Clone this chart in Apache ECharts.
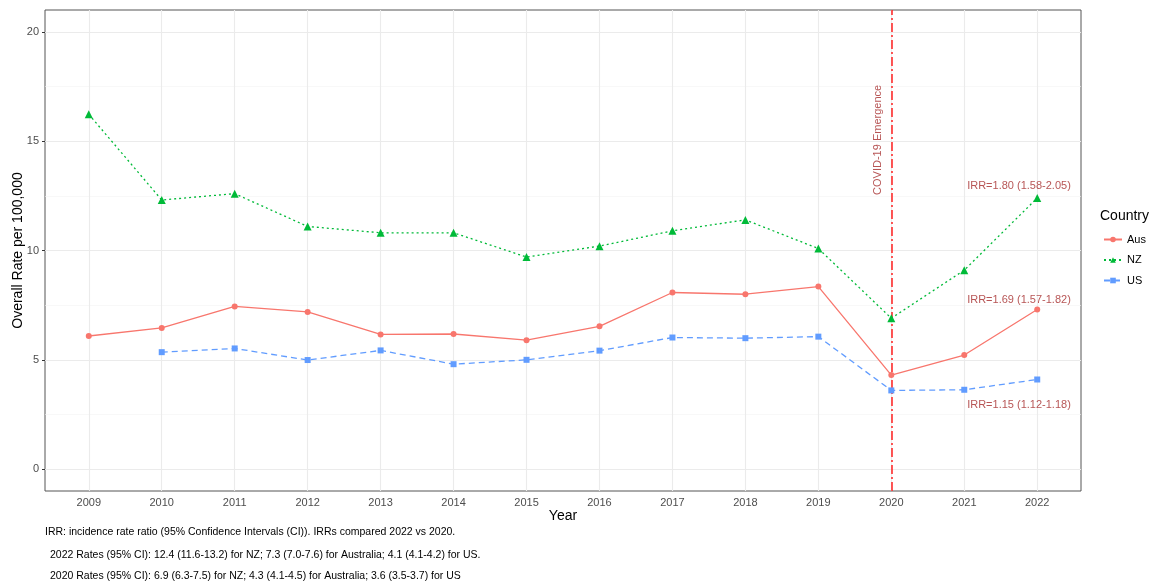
<!DOCTYPE html>
<html>
<head>
<meta charset="utf-8">
<script src="https://cdn.jsdelivr.net/npm/echarts@6/dist/echarts.min.js"></script>
<style>html,body{margin:0;padding:0;background:#fff;}#c{width:1162px;height:583px;}</style>
</head>
<body>
<div id="c"></div>
<script>
const years = [2009,2010,2011,2012,2013,2014,2015,2016,2017,2018,2019,2020,2021,2022];
const aus = [6.09,6.46,7.44,7.19,6.16,6.18,5.90,6.53,8.08,8.00,8.35,4.3,5.22,7.3];
const nz  = [16.23,12.31,12.60,11.10,10.81,10.81,9.70,10.20,10.90,11.40,10.09,6.9,9.10,12.4];
const us  = [null,5.35,5.52,4.99,5.43,4.80,5.00,5.42,6.02,5.99,6.06,3.6,3.63,4.1];
const yTicks = [0,5,10,15,20];
const yMinor = [2.5,7.5,12.5,17.5];
const covidYear = 2020;
const covidLabel = 'COVID-19 Emergence';
const annotX = [2021.75, 2021.75, 2021.75];
const annotY = [12.94, 7.75, 2.94];
const annotText = ['IRR=1.80 (1.58-2.05)','IRR=1.69 (1.57-1.82)','IRR=1.15 (1.12-1.18)'];
const captions = [
  'IRR: incidence rate ratio (95% Confidence Intervals (CI)). IRRs compared 2022 vs 2020.',
  '2022 Rates (95% CI): 12.4 (11.6-13.2) for NZ; 7.3 (7.0-7.6) for Australia; 4.1 (4.1-4.2) for US.',
  '2020 Rates (95% CI): 6.9 (6.3-7.5) for NZ; 4.3 (4.1-4.5) for Australia; 3.6 (3.5-3.7) for US'
];

const FONT = '"Liberation Sans", Arial, sans-serif';
const pair = (arr) => years.map((y,i) => [y, arr[i]]);

const chart = echarts.init(document.getElementById('c'), null, {renderer:'canvas'});
chart.setOption({
  animation: false,
  backgroundColor: '#fff',
  textStyle: {fontFamily: FONT},
  grid: {left: 45, right: 81, top: 10, bottom: 92, outerBoundsMode: 'none', containLabel: false,
         show: true, borderColor: '#555', borderWidth: 1, backgroundColor: 'transparent'},
  xAxis: {
    type: 'value', min: 2008.4, max: 2022.6,
    name: 'Year', nameLocation: 'middle', nameGap: 18, nameMoveOverlap: false,
    nameTextStyle: {fontSize: 14, color: '#000', fontFamily: FONT},
    axisLine: {show: false},
    axisTick: {show: true, length: 3, lineStyle: {color: '#333'}, customValues: years},
    axisLabel: {customValues: years, color: '#4d4d4d', fontSize: 11, margin: 6, fontFamily: FONT, formatter: v => String(v)},
    splitLine: {show: false}
  },
  yAxis: {
    type: 'value', min: -1, max: 21,
    name: 'Overall Rate per 100,000', nameLocation: 'middle', nameGap: 20, nameMoveOverlap: false,
    nameTextStyle: {fontSize: 14, color: '#000', fontFamily: FONT},
    axisLine: {show: false},
    axisTick: {show: true, length: 3, lineStyle: {color: '#333'}, customValues: yTicks},
    axisLabel: {customValues: yTicks, color: '#4d4d4d', fontSize: 11, margin: 6, fontFamily: FONT},
    splitLine: {show: false}
  },
  legend: {
    orient: 'vertical', left: 1103, top: 234, padding: 0, itemWidth: 18, itemHeight: 7, itemGap: 9.5,
    data: ['Aus','NZ','US'],
    textStyle: {fontSize: 11, color: '#000', fontFamily: FONT}
  },
  graphic: [
    {type: 'text', left: 1100, top: 209, style: {text: 'Country', fontSize: 14, fill: '#000', font: '14px ' + FONT}},
    {type: 'text', left: 45, top: 527, style: {text: captions[0], fill: '#000', font: '10.5px ' + FONT}},
    {type: 'text', left: 50, top: 550, style: {text: captions[1], fill: '#000', font: '10.5px ' + FONT}},
    {type: 'text', left: 50, top: 571, style: {text: captions[2], fill: '#000', font: '10.5px ' + FONT}}
  ],
  series: [
    {
      name: 'grid', type: 'line', data: [], z: 1, silent: true,
      markLine: {
        silent: true, symbol: 'none', label: {show: false}, animation: false,
        data: [
          ...yMinor.map(v => ({yAxis: v, lineStyle: {color: '#f3f3f3', width: 0.6, type: 'solid'}})),
          ...yTicks.map(v => ({yAxis: v, lineStyle: {color: '#ebebeb', width: 1.1, type: 'solid'}})),
          ...years.map(v => ({xAxis: v, lineStyle: {color: '#ebebeb', width: 1.1, type: 'solid'}}))
        ]
      }
    },
    {
      name: 'covid', type: 'line', data: [], z: 2, silent: true, color: '#ff0000',
      markLine: {
        silent: true, symbol: 'none', label: {show: false}, animation: false,
        lineStyle: {color: '#ff2020', width: 1.5, type: [9,3,2,3], opacity: 1},
        data: [{xAxis: covidYear}]
      }
    },
    {
      name: 'Aus', type: 'line', data: pair(aus), z: 5,
      color: '#F8766D', symbol: 'circle', symbolSize: 6, showSymbol: true,
      lineStyle: {width: 1.3, type: 'solid'}, itemStyle: {color: '#F8766D'}
    },
    {
      name: 'NZ', type: 'line', data: pair(nz), z: 5,
      color: '#00BA38', symbol: 'triangle', symbolSize: 8,
      lineStyle: {width: 1.3, type: [2,3]}, itemStyle: {color: '#00BA38'}
    },
    {
      name: 'US', type: 'line', data: pair(us), z: 5, connectNulls: false,
      color: '#619CFF', symbol: 'rect', symbolSize: 6,
      lineStyle: {width: 1.3, type: [6,4]}, itemStyle: {color: '#619CFF'}
    },
    {
      name: 'annot', type: 'scatter', z: 6, silent: true, symbolSize: 0,
      data: annotX.map((x,i) => ({value: [x, annotY[i]], name: annotText[i]})),
      label: {show: true, position: 'inside', formatter: p => p.name, color: '#A52A2A', fontSize: 11, fontFamily: FONT}
    },
    {
      name: 'covidText', type: 'scatter', z: 6, silent: true, symbolSize: 0,
      data: [{value: [covidYear - 0.18, 15.06], name: covidLabel}],
      label: {show: true, position: 'inside', rotate: 90, formatter: p => p.name, color: '#A52A2A', fontSize: 11, fontFamily: FONT}
    }
  ]
});
</script>
</body>
</html>
